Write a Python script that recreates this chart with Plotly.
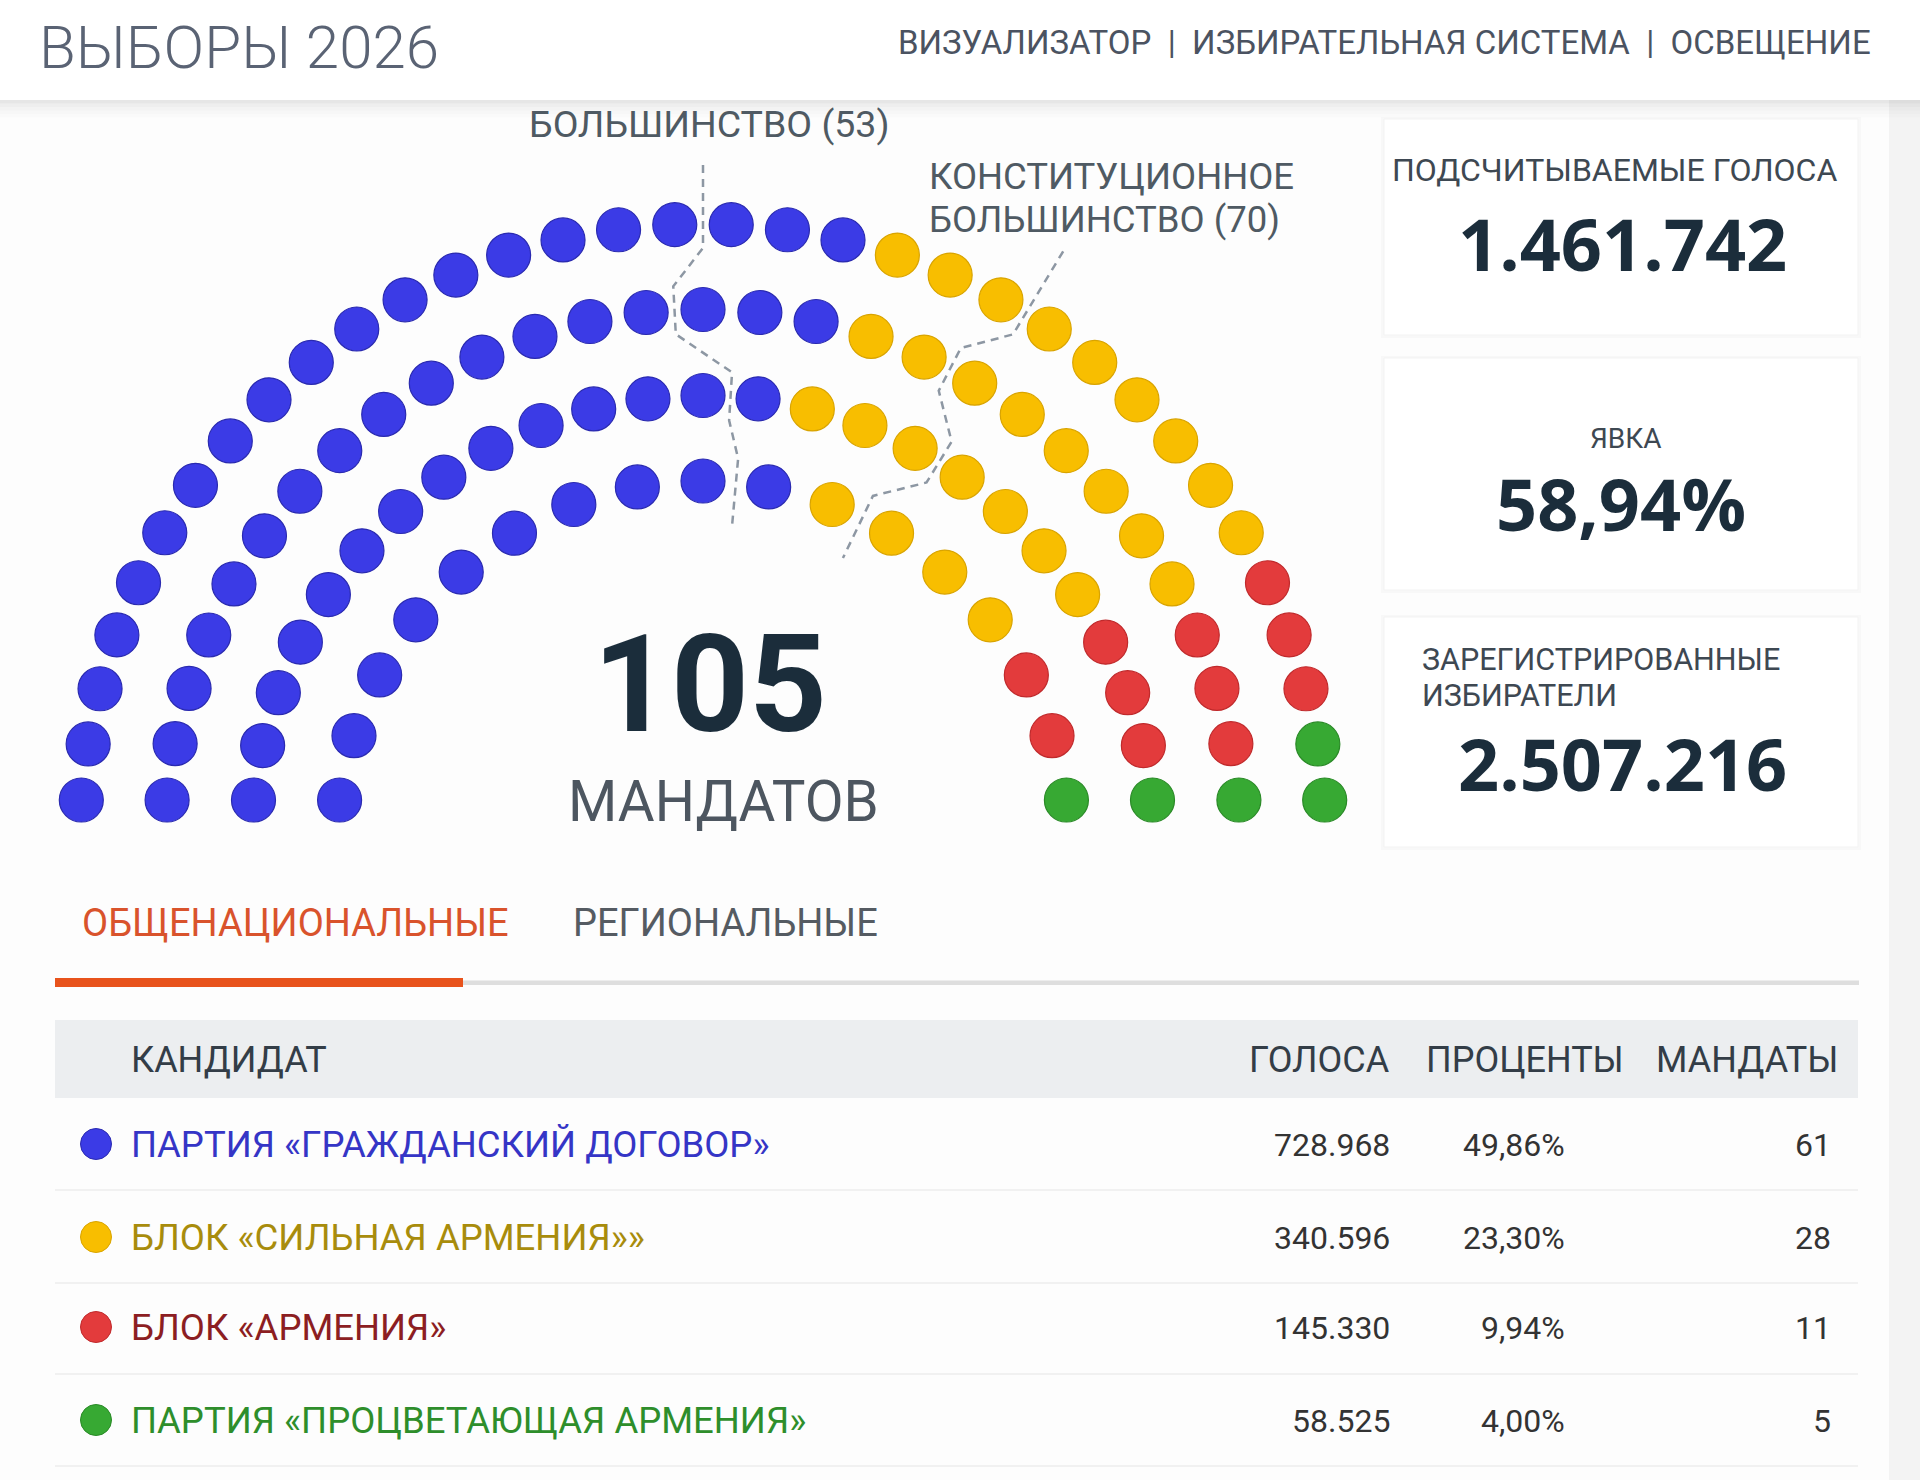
import numpy as np
import plotly.graph_objects as go

# ---------------- data ----------------
parties = ["ПАРТИЯ «ГРАЖДАНСКИЙ ДОГОВОР»", "БЛОК «СИЛЬНАЯ АРМЕНИЯ»»",
           "БЛОК «АРМЕНИЯ»", "ПАРТИЯ «ПРОЦВЕТАЮЩАЯ АРМЕНИЯ»"]
votes = [728968, 340596, 145330, 58525]
percents = [49.86, 23.30, 9.94, 4.00]
seats = [61, 28, 11, 5]
total_seats = 105
majority = 53
constitutional = 70
counted_votes = 1461742
turnout = 58.94
registered = 2507216
row_seat_counts = [17, 25, 29, 34]          # inner -> outer row
table_headers = ["КАНДИДАТ", "ГОЛОСА", "ПРОЦЕНТЫ", "МАНДАТЫ"]
tabs = ["ОБЩЕНАЦИОНАЛЬНЫЕ", "РЕГИОНАЛЬНЫЕ"]
nav_items = ["ВИЗУАЛИЗАТОР", "ИЗБИРАТЕЛЬНАЯ СИСТЕМА", "ОСВЕЩЕНИЕ"]
title_text = "ВЫБОРЫ 2026"

# ---------------- styles ----------------
dot_colors = ["#3b3be6", "#f8be00", "#e33b3c", "#37a933"]
dot_edges = ["#2a2ab0", "#d9a400", "#c02a2c", "#2a8a27"]
name_colors = ["#3535c6", "#a88c0c", "#8c1e22", "#2e8e2b"]
FONT = "Roboto, 'Open Sans', sans-serif"
BOLD = "'Open Sans', Roboto, sans-serif"
DARK = "#1b2d3b"


def fmt_int(v):
    return f"{v:,}".replace(",", ".")


def fmt_pct(v):
    return f"{v:.2f}".replace(".", ",") + "%"


# ---------------- hemicycle layout ----------------
cx, cy = 703.0, 847.5
row_radii = [366.5, 452.0, 538.0, 623.5]
floor_drop = 47.5

row_angles = []
seat_list = []
for r, (n, R) in enumerate(zip(row_seat_counts, row_radii)):
    th0 = np.arcsin(floor_drop / R)
    ang = np.linspace(np.pi - th0, th0, n)
    row_angles.append(ang)
    for i, a in enumerate(ang):
        seat_list.append((round(-float(a), 9), r, i))
seat_list.sort()

party_of_seat = []
for p, s in enumerate(seats):
    party_of_seat += [p] * s

fig = go.Figure()

for p in range(len(parties)):
    xs, ys = [], []
    for k, (na, r, i) in enumerate(seat_list):
        if party_of_seat[k] != p:
            continue
        a = row_angles[r][i]
        R = row_radii[r]
        xs.append(cx + R * np.cos(a))
        ys.append(cy - R * np.sin(a))
    fig.add_trace(go.Scatter(
        x=xs, y=ys, mode="markers", name=parties[p], showlegend=False,
        hoverinfo="skip",
        marker=dict(size=44, color=dot_colors[p],
                    line=dict(width=1.2, color=dot_edges[p]))))


def boundary_line(k, ext_top, ext_bot, h=24.0):
    counts = [0] * len(row_seat_counts)
    for (na, r, i) in seat_list[:k]:
        counts[r] += 1
    pts = []
    order = list(range(len(row_seat_counts)))[::-1]
    for j, r in enumerate(order):
        c = counts[r]
        ang = row_angles[r]
        th = (ang[c - 1] + ang[c]) / 2.0
        R = row_radii[r]
        top = R + (ext_top if j == 0 else h)
        bot = R - (ext_bot if j == len(order) - 1 else h)
        pts.append((top, th))
        pts.append((bot, th))
    xs = [cx + rr * np.cos(t) for rr, t in pts]
    ys = [cy - rr * np.sin(t) for rr, t in pts]
    return xs, ys


for k, et in [(majority, 59.0), (constitutional, 73.0)]:
    lx, ly = boundary_line(k, et, 45.0)
    fig.add_trace(go.Scatter(
        x=lx, y=ly, mode="lines", showlegend=False, hoverinfo="skip",
        line=dict(color="#8d97a3", width=2.5, dash="8px,6px")))

# ---------------- table markers ----------------
row_y = [1144, 1237, 1327, 1420]
fig.add_trace(go.Scatter(
    x=[96] * len(parties), y=row_y, mode="markers", showlegend=False,
    hoverinfo="skip",
    marker=dict(size=31, color=dot_colors, line=dict(width=1, color=dot_edges))))

# ---------------- shapes ----------------
shapes = []


def rect(x0, y0, x1, y1, fill, line=None, layer="below", lw=0):
    shapes.append(dict(type="rect", xref="x", yref="y", x0=x0, y0=y0, x1=x1, y1=y1,
                       fillcolor=fill, layer=layer,
                       line=dict(width=lw, color=line or fill)))


# right page strip
rect(1889, 100, 1920, 1480, "#f3f3f3")
# header + shadow
rect(0, 0, 1920, 100, "#ffffff")
for i, a in enumerate([0.09, 0.06, 0.04, 0.025, 0.012]):
    rect(0, 100 + i * 3.5, 1920, 103.5 + i * 3.5, f"rgba(0,0,0,{a})")

# stat cards
cards = [(119, 335), (358, 590), (617, 847)]
for y0, y1 in cards:
    rect(1381, y0 - 2, 1861, y1 + 3, "rgba(0,0,0,0.018)")
    rect(1384, y0, 1858, y1, "#ffffff", line="#f3f3f3", lw=1)

# tabs underline
rect(55, 980.5, 1859, 985, "#dedede")
rect(55, 978, 463, 987, "#e8531c")
# table header band
rect(55, 1020, 1858, 1098, "#eceef0")
# row separators
for ys in [1190, 1283, 1374, 1466]:
    shapes.append(dict(type="line", xref="x", yref="y", x0=55, x1=1858, y0=ys, y1=ys,
                       layer="below", line=dict(color="#ececec", width=1.5)))

# ---------------- annotations ----------------
ann = []


def text(x, y, s, size, color, anchor="left", family=FONT, weight=400, yanchor="middle"):
    ann.append(dict(x=x, y=y, xref="x", yref="y", text=s, showarrow=False,
                    xanchor=anchor, yanchor=yanchor,
                    font=dict(family=family, size=size, color=color, weight=weight)))


text(37, 47, title_text, 60, "#5a6374", weight=300)
text(1873, 42, "  |  ".join(nav_items), 33, "#4b5361", anchor="right")

text(709, 124, f"БОЛЬШИНСТВО ({majority})", 37.5, "#4f5a63", anchor="center")
text(927, 176, "КОНСТИТУЦИОННОЕ", 36.5, "#4f5a63")
text(927, 219, f"БОЛЬШИНСТВО ({constitutional})", 36.5, "#4f5a63")

text(710, 684, str(total_seats), 136, DARK, anchor="center", family=FONT, weight=700)
text(723, 802, "МАНДАТОВ", 56.5, "#4d5660", anchor="center")

text(1614, 170, "ПОДСЧИТЫВАЕМЫЕ ГОЛОСА", 32, "#3e4852", anchor="center")
text(1622, 243, fmt_int(counted_votes), 72, DARK, anchor="center", family=BOLD, weight=700)
text(1626, 438, "ЯВКА", 28, "#3e4852", anchor="center")
text(1621, 503, fmt_pct(turnout), 72, DARK, anchor="center", family=BOLD, weight=700)
text(1420, 659, "ЗАРЕГИСТРИРОВАННЫЕ", 30.5, "#3e4852")
text(1420, 695, "ИЗБИРАТЕЛИ", 30.5, "#3e4852")
text(1622, 763, fmt_int(registered), 72, DARK, anchor="center", family=BOLD, weight=700)

text(80, 923, tabs[0], 38, "#d9532c")
text(571, 923, tabs[1], 38, "#555b62")

text(129, 1060, table_headers[0], 36, "#333d47")
text(1392, 1060, table_headers[1], 36, "#333d47", anchor="right")
text(1626, 1060, table_headers[2], 36, "#333d47", anchor="right")
text(1840, 1060, table_headers[3], 36, "#333d47", anchor="right")

for i in range(len(parties)):
    y = row_y[i]
    text(129, y, parties[i], 36.5, name_colors[i])
    text(1392, y + 1, fmt_int(votes[i]), 32, "#333333", anchor="right")
    text(1567, y + 1, fmt_pct(percents[i]), 32, "#333333", anchor="right")
    text(1833, y + 1, str(seats[i]), 32, "#333333", anchor="right")

fig.update_layout(
    width=1920, height=1480, margin=dict(l=0, r=0, t=0, b=0),
    paper_bgcolor="#fdfdfd", plot_bgcolor="rgba(0,0,0,0)",
    xaxis=dict(range=[0, 1920], visible=False, fixedrange=True),
    yaxis=dict(range=[1480, 0], visible=False, fixedrange=True),
    shapes=shapes, annotations=ann, showlegend=False,
)

fig.write_html("out.html")
